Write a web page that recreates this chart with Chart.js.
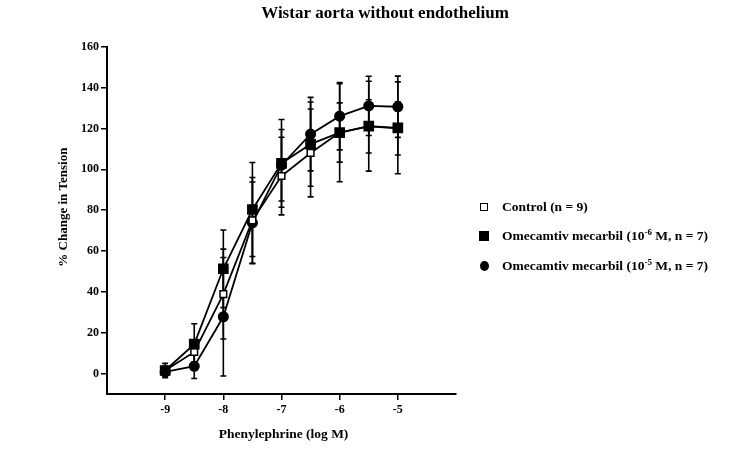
<!DOCTYPE html>
<html>
<head>
<meta charset="utf-8">
<script src="https://cdn.jsdelivr.net/npm/chart.js@4.4.0/dist/chart.umd.min.js"></script>
<style>
    html, body { margin: 0; padding: 0; background: #fff; }
    #wrap { position: relative; width: 750px; height: 451px; }
    #legend { position: absolute; left: 476px; top: 192px; font: bold 13.5px "Liberation Serif", serif; color: #000; }
    .item { display: flex; align-items: center; height: 29.5px; white-space: nowrap; }
    .mk { width: 16px; height: 16px; margin-right: 10px; display: flex; align-items: center; justify-content: center; }
    .sq-open { width: 6px; height: 6px; border: 1.5px solid #000; background: #fff; }
    .sq { width: 10px; height: 10px; background: #000; }
    .dot { width: 9px; height: 10px; border-radius: 50%; background: #000; }
    sup { font-size: 9px; line-height: 0; }
</style>
</head>
<body>
<div id="wrap">
    <canvas id="chart" width="750" height="451"></canvas>
    <div id="legend"></div>
</div>
<script>
// --- Dados ---
const chartTitle = 'Wistar aorta without endothelium';
const xTitle = 'Phenylephrine (log M)';
const yTitle = '% Change in Tension';

const doses = [-9, -8.5, -8, -7.5, -7, -6.5, -6, -5.5, -5];
const xTicks = [-9, -8, -7, -6, -5];
const yTicks = [0, 20, 40, 60, 80, 100, 120, 140, 160];

const controlVals = [1.5, 10.6, 38.9, 75, 96.7, 108, 118, 121, 120];
const controlErr  = [2, 5, 22, 21, 19, 21.5, 14.5, 13, 13];
const omec6Vals   = [1.5, 14.4, 51.3, 80.3, 102.9, 112.3, 117.9, 121.1, 120.3];
const omec6Err    = [3.5, 10, 19, 23, 21.5, 20.6, 24, 22, 22.5];
const omec5Vals   = [0.8, 3.6, 27.8, 73.8, 102, 117.2, 126, 131, 130.6];
const omec5Err    = [2, 6, 29, 20, 17.5, 18, 16.5, 14.5, 15];

const legendLabels = [
    { html: 'Control (n = 9)', cls: 'sq-open' },
    { html: 'Omecamtiv mecarbil (10<sup>-6</sup> M, n = 7)', cls: 'sq' },
    { html: 'Omecamtiv mecarbil (10<sup>-5</sup> M, n = 7)', cls: 'dot' },
];

const toPoints = vals => doses.map((d, i) => ({ x: d, y: vals[i] }));
const errArrays = [controlErr, omec6Err, omec5Err];
const FONT = '"Liberation Serif", "Times New Roman", serif';

// --- Barras de erro (SEM) ---
const errorBars = {
    id: 'errorBars',
    beforeDatasetsDraw(chart) {
        const { ctx, scales: { x, y } } = chart;
        ctx.save();
        ctx.strokeStyle = '#000';
        ctx.lineWidth = 1.6;
        chart.data.datasets.forEach((ds, k) => {
            const errs = errArrays[k];
            ds.data.forEach((p, i) => {
                const px = x.getPixelForValue(p.x);
                const top = y.getPixelForValue(p.y + errs[i]);
                const bot = y.getPixelForValue(p.y - errs[i]);
                ctx.beginPath();
                ctx.moveTo(px, top); ctx.lineTo(px, bot);
                ctx.moveTo(px - 3, top); ctx.lineTo(px + 3, top);
                ctx.moveTo(px - 3, bot); ctx.lineTo(px + 3, bot);
                ctx.stroke();
            });
        });
        ctx.restore();
    }
};

// --- Títulos ---
const textLabels = {
    id: 'textLabels',
    afterDraw(chart) {
        const { ctx, chartArea, scales: { y } } = chart;
        ctx.save();
        ctx.fillStyle = '#000';
        ctx.textAlign = 'center';
        ctx.textBaseline = 'middle';
        ctx.font = 'bold 17px ' + FONT;
        ctx.fillText(chartTitle, 385, 14);
        ctx.font = 'bold 13.5px ' + FONT;
        ctx.fillText(xTitle, (chartArea.left + chartArea.right) / 2 + 2, 435);
        ctx.font = 'bold 13px ' + FONT;
        ctx.translate(64, y.getPixelForValue(80) - 3);
        ctx.rotate(-Math.PI / 2);
        ctx.fillText(yTitle, 0, 0);
        ctx.restore();
    }
};

const lineDefaults = {
    borderColor: '#000',
    borderWidth: 1.8,
    pointBorderColor: '#000',
    pointBorderWidth: 1.5,
    tension: 0,
    fill: false,
};

new Chart(document.getElementById('chart'), {
    type: 'line',
    data: {
        datasets: [
            { ...lineDefaults, label: 'Control (n = 9)', data: toPoints(controlVals),
              pointStyle: 'rect', pointRadius: 4.7, pointBackgroundColor: '#fff', order: 2 },
            { ...lineDefaults, label: 'Omecamtiv mecarbil (10-6 M, n = 7)', data: toPoints(omec6Vals),
              pointStyle: 'rect', pointRadius: 6.5, pointBackgroundColor: '#000', order: 1 },
            { ...lineDefaults, label: 'Omecamtiv mecarbil (10-5 M, n = 7)', data: toPoints(omec5Vals),
              pointStyle: 'circle', pointRadius: 4.8, pointBackgroundColor: '#000', order: 3 },
        ]
    },
    options: {
        responsive: false,
        animation: false,
        parsing: false,
        layout: { padding: { top: 46.7, right: 294, bottom: 0, left: 0 } },
        plugins: { legend: { display: false }, tooltip: { enabled: false } },
        scales: {
            x: {
                type: 'linear', min: -10, max: -4,
                afterBuildTicks: s => { s.ticks = xTicks.map(v => ({ value: v })); },
                afterFit: s => { s.height = 57; },
                border: { display: true, color: '#000', width: 2 },
                grid: { drawOnChartArea: false, drawTicks: true, tickLength: 6, color: '#000', lineWidth: 1.5 },
                ticks: { color: '#000', padding: 3, font: { family: FONT, size: 12, weight: 'bold' } },
            },
            y: {
                type: 'linear', min: -10, max: 160,
                afterBuildTicks: s => { s.ticks = yTicks.map(v => ({ value: v })); },
                afterFit: s => { s.width = 107; },
                border: { display: true, color: '#000', width: 2 },
                grid: { drawOnChartArea: false, drawTicks: true, tickLength: 6, color: '#000', lineWidth: 1.5 },
                ticks: { color: '#000', padding: 2, font: { family: FONT, size: 12, weight: 'bold' } },
            }
        }
    },
    plugins: [errorBars, textLabels]
});

// --- Legenda em HTML ---
const legendEl = document.getElementById('legend');
legendLabels.forEach(l => {
    const row = document.createElement('div');
    row.className = 'item';
    row.innerHTML = `<div class="mk"><div class="${l.cls}"></div></div><span>${l.html}</span>`;
    legendEl.appendChild(row);
});
</script>
</body>
</html>
